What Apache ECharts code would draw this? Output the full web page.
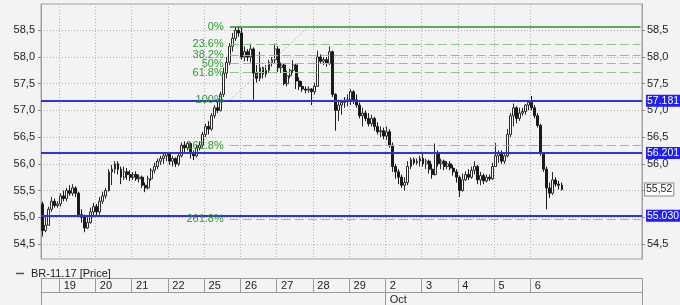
<!DOCTYPE html>
<html><head><meta charset="utf-8">
<script src="https://cdn.jsdelivr.net/npm/echarts@6/dist/echarts.min.js"></script>
<style>html,body{margin:0;padding:0;background:#f3f3f3}#c{width:680px;height:305px}</style>
</head><body><div id="c"></div>
<script>
// ---------- DATA ----------
const seriesName = 'BR-11.17 [Price]';
const firstDay = '18';
const dayLabels = ['19','20','21','22','25','26','27','28','29','2','3','4','5','6'];
const monthLabel = 'Oct';
const monthDay = '2';
const leadBars = 6, barsPerDay = 12, totalSlots = 199;
const yTicks = [54.5,55,55.5,56,56.5,57,57.5,58,58.5];

// candles: [open, close, low, high]
const d18 = [[55.25,54.75,54.64,55.29],[54.75,54.85,54.72,55.0],[54.85,55.15,54.85,55.2],[55.15,55.3,55.1,55.38],[55.3,55.22,55.18,55.35],[55.22,55.25,55.18,55.3]];
const d19 = [[55.25,55.4,55.2,55.45],[55.4,55.35,55.3,55.5],[55.35,55.5,55.3,55.55],[55.5,55.45,55.4,55.6],[55.45,55.55,55.4,55.62],[55.55,55.45,55.38,55.58],[55.45,55.05,55.0,55.48],[55.05,55.0,54.9,55.15],[55.0,54.8,54.72,55.05],[54.8,54.9,54.78,55.0],[54.9,55.1,54.88,55.18],[55.1,55.2,55.0,55.27]];
const d20 = [[55.2,55.1,55.04,55.25],[55.1,55.3,55.05,55.38],[55.3,55.4,55.25,55.48],[55.4,55.5,55.35,55.55],[55.5,55.85,55.48,55.9],[55.85,55.9,55.6,55.98],[55.9,56.0,55.82,56.05],[56.0,55.9,55.8,56.05],[55.9,55.75,55.62,55.95],[55.75,55.85,55.7,55.95],[55.85,55.8,55.7,55.92],[55.8,55.75,55.68,55.88]];
const d21 = [[55.75,55.8,55.7,55.85],[55.8,55.72,55.68,55.86],[55.72,55.75,55.65,55.8],[55.75,55.6,55.55,55.78],[55.6,55.55,55.47,55.65],[55.55,55.72,55.52,55.78],[55.72,55.88,55.68,55.92],[55.88,55.95,55.82,56.02],[55.95,56.05,55.9,56.1],[56.05,56.1,55.98,56.15],[56.1,56.15,56.0,56.2],[56.15,56.2,56.05,56.22]];
const d22 = [[56.2,56.05,55.98,56.22],[56.05,56.1,55.95,56.15],[56.1,56.0,55.94,56.12],[56.0,56.15,55.96,56.2],[56.15,56.35,56.12,56.4],[56.35,56.3,56.22,56.42],[56.3,56.38,56.25,56.42],[56.38,56.2,56.1,56.4],[56.2,56.15,56.07,56.25],[56.15,56.3,56.12,56.35],[56.3,56.35,56.25,56.42],[56.35,56.55,56.3,56.6]];
const d25 = [[56.55,56.7,56.5,56.75],[56.7,56.65,56.55,56.8],[56.65,56.9,56.62,56.95],[56.9,57.05,56.85,57.1],[57.05,57.0,56.95,57.2],[57.0,57.3,56.98,57.35],[57.3,57.7,57.25,57.8],[57.7,57.9,57.6,58.0],[57.9,58.2,57.85,58.26],[58.2,58.35,58.1,58.45],[58.35,58.5,58.3,58.56],[58.5,58.45,58.38,58.58]];
const d26 = [[58.45,58.0,57.95,58.55],[58.0,58.1,57.92,58.2],[58.1,58.0,57.92,58.15],[58.0,58.15,57.9,58.25],[58.15,57.7,57.2,58.18],[57.7,57.6,57.52,57.85],[57.6,57.8,57.55,58.1],[57.8,57.68,57.6,57.82],[57.68,57.75,57.62,57.85],[57.75,57.9,57.7,57.95],[57.9,57.95,57.82,58.0],[57.95,58.15,57.88,58.25]];
const d27 = [[58.15,57.8,57.72,58.2],[57.8,57.85,57.7,57.9],[57.85,57.5,57.47,57.88],[57.5,57.65,57.45,57.75],[57.65,57.75,57.6,57.78],[57.75,57.85,57.7,57.94],[57.85,57.55,57.4,57.88],[57.55,57.45,57.38,57.62],[57.45,57.4,57.35,57.55],[57.4,57.38,57.32,57.45],[57.38,57.4,57.33,57.45],[57.4,57.35,57.1,57.42]];
const d28 = [[57.35,57.45,57.3,57.52],[57.45,58.0,57.45,58.12],[58.0,57.92,57.88,58.05],[57.92,57.95,57.85,58.0],[57.95,57.88,57.82,58.0],[57.88,58.1,57.85,58.2],[58.1,57.3,57.25,58.12],[57.3,57.0,56.62,57.32],[57.0,57.1,56.8,57.2],[57.1,57.15,56.92,57.2],[57.15,57.18,57.05,57.25],[57.18,57.2,57.08,57.3]];
const d29 = [[57.2,57.35,57.1,57.4],[57.35,57.2,57.12,57.38],[57.2,57.1,57.05,57.3],[57.1,56.9,56.85,57.15],[56.9,56.95,56.7,57.05],[56.95,56.85,56.8,57.0],[56.85,56.75,56.7,56.95],[56.75,56.85,56.7,56.92],[56.85,56.7,56.62,56.88],[56.7,56.6,56.55,56.78],[56.6,56.62,56.5,56.7],[56.62,56.52,56.46,56.68]];
const d02 = [[56.52,56.6,56.45,56.7],[56.6,56.35,56.3,56.65],[56.35,55.95,55.85,56.4],[55.95,55.85,55.72,56.0],[55.85,55.75,55.62,55.9],[55.75,55.6,55.55,55.8],[55.6,55.65,55.5,55.75],[55.65,55.95,55.6,56.05],[55.95,56.08,55.9,56.12],[56.08,56.02,55.98,56.12],[56.02,56.05,55.98,56.1],[56.05,56.1,55.95,56.15]];
const d03 = [[56.1,56.0,55.95,56.18],[56.0,56.05,55.9,56.1],[56.05,55.9,55.82,56.08],[55.9,55.8,55.72,56.0],[55.8,56.2,55.78,56.38],[56.2,56.0,55.95,56.25],[56.0,56.05,55.9,56.1],[56.05,55.95,55.88,56.08],[55.95,56.0,55.9,56.05],[56.0,55.92,55.88,56.05],[55.92,55.85,55.78,55.98],[55.85,55.75,55.65,55.9]];
const d04 = [[55.75,55.5,55.38,55.78],[55.5,55.7,55.48,55.82],[55.7,55.8,55.68,55.86],[55.8,55.75,55.7,55.9],[55.75,55.88,55.72,55.95],[55.88,55.95,55.8,56.05],[55.95,55.7,55.62,55.98],[55.7,55.78,55.6,55.85],[55.78,55.68,55.62,55.82],[55.68,55.75,55.65,55.8],[55.75,55.72,55.68,55.8],[55.72,55.95,55.7,56.02]];
const d05 = [[55.95,56.15,55.95,56.39],[56.15,56.2,56.02,56.25],[56.2,56.05,56.0,56.25],[56.05,56.15,56.0,56.18],[56.15,56.55,56.12,56.65],[56.55,56.9,56.5,56.95],[56.9,57.05,56.7,57.13],[57.05,56.85,56.76,57.08],[56.85,56.95,56.8,57.05],[56.95,56.98,56.9,57.05],[56.98,57.1,56.92,57.12],[57.1,57.15,57.0,57.18]];
const d06 = [[57.15,57.05,57.0,57.27],[57.05,56.9,56.85,57.1],[56.9,56.72,56.68,56.95],[56.72,56.2,56.15,56.75],[56.2,55.9,55.85,56.22],[55.9,55.55,55.15,55.95],[55.55,55.45,55.36,55.65],[55.45,55.7,55.42,55.85],[55.7,55.62,55.57,55.75],[55.62,55.6,55.52,55.68],[55.6,55.52,55.5,55.65]];

// Support / resistance levels (blue) and their tags
const blueLevels = [57.181, 56.201, 55.030];
const blueTags = ['57.181', '56.201', '55.030'];
// Last price tag
const lastPrice = 55.52;
const lastPriceTag = '55,52';
// Fibonacci retracement
const fibValues = [58.56, 58.24, 58.04, 57.875, 57.71, 57.19, 56.34, 54.97];
const fibLabels = ['0%','23.6%','38.2%','50%','61.8%','100%','161.8%','261.8%'];
const fibSolid  = [true,false,false,false,false,true,false,false];
const fibStartIdx = 62, fibEndIdx = 198;
const trendFrom = [62, 57.19], trendTo = [88, 58.56];

// ---------- BUILD ----------
const candles = [].concat(d18,d19,d20,d21,d22,d25,d26,d27,d28,d29,d02,d03,d04,d05,d06);
const categories = [];
for (let k = 0; k < leadBars; k++) categories.push(firstDay + '-' + k);
dayLabels.forEach(d => { for (let k = 0; k < barsPerDay; k++) categories.push(d + '-' + k); });
while (categories.length < totalSlots) categories.push('x-' + categories.length);

const dayStart = {};
dayLabels.forEach((d, j) => { dayStart[leadBars + j * barsPerDay] = d; });
const isBoundary = i => i === 0 || dayStart[i] !== undefined;
const monthIdx = Number(Object.keys(dayStart).find(k => dayStart[k] === monthDay));

const FONT = 'Liberation Sans';
const fmtY = v => v.toFixed(1).replace('.', ',');

const markData = [];
fibValues.forEach((v, i) => {
  markData.push([
    { coord: [fibStartIdx, v],
      lineStyle: fibSolid[i] ? { color: '#2a8f2a', width: 1.5, type: 'solid' } : { color: '#86c686', width: 1.2, type: [9, 4] },
      label: { show: true, position: 'start', formatter: fibLabels[i], color: '#2f9a2f', fontSize: 11, fontFamily: FONT, distance: 6 } },
    { coord: [fibEndIdx, v] }
  ]);
});
markData.push([
  { coord: trendFrom, lineStyle: { color: '#9ad29a', width: 1, type: [2, 2] }, label: { show: false } },
  { coord: trendTo }
]);
blueLevels.forEach((v, i) => {
  markData.push({ yAxis: v,
    lineStyle: { color: '#3232dc', width: 2, type: 'solid' },
    label: { show: true, position: 'end', formatter: blueTags[i], color: '#ffffff', backgroundColor: '#1f1ff0',
      fontSize: 10.5, fontFamily: FONT, padding: [1, 1, 0, 1], lineHeight: 11, distance: 4 } });
});
markData.push({ yAxis: lastPrice,
  lineStyle: { color: 'rgba(0,0,0,0)', width: 0 },
  label: { show: true, position: 'end', formatter: lastPriceTag, color: '#222', backgroundColor: '#ffffff',
    borderColor: '#8c8c8c', borderWidth: 1, fontSize: 10.5, fontFamily: FONT, padding: [1, 1, 0, 1], lineHeight: 11, distance: 3 } });

const yAxisBase = {
  type: 'value', min: 54.219, max: 58.992, scale: true,
  axisLine: { show: true, lineStyle: { color: '#a0a0a0' } },
  axisTick: { show: true, length: 3, customValues: yTicks, lineStyle: { color: '#888' } },
  axisLabel: { customValues: yTicks, formatter: fmtY, color: '#222', fontSize: 11, fontFamily: FONT, margin: 6 },
};

const option = {
  animation: false,
  backgroundColor: '#f3f3f3',
  textStyle: { fontFamily: FONT },
  legend: {
    left: 11, top: 263, icon: 'rect', itemWidth: 8, itemHeight: 1.5,
    itemStyle: { color: '#555', borderWidth: 0 },
    textStyle: { color: '#222', fontSize: 11, fontFamily: FONT, padding: [0, 0, 0, 2] },
    data: [seriesName], selectedMode: false
  },
  grid: { left: 41, right: 38, top: 4, bottom: 46, show: true, borderColor: '#a0a0a0', borderWidth: 1, backgroundColor: 'transparent' },
  xAxis: [
    { type: 'category', data: categories, boundaryGap: true,
      axisLine: { show: false }, axisTick: { show: false }, axisLabel: { show: false },
      splitLine: { show: true, interval: (i) => isBoundary(i) && i > 0, lineStyle: { color: '#b0b0b0', type: [1, 2] } } },
    { type: 'category', data: categories, boundaryGap: true, position: 'bottom', offset: 19,
      axisLine: { show: true, lineStyle: { color: '#9a9a9a' } },
      axisTick: { show: true, inside: false, length: 14, interval: (i) => isBoundary(i), lineStyle: { color: '#9a9a9a' } },
      axisLabel: { show: true, interval: (i) => dayStart[i] !== undefined, formatter: (v, i) => dayStart[i] || '',
        align: 'left', padding: [0, 0, 0, 3], margin: 2, color: '#222', fontSize: 11, fontFamily: FONT },
      splitLine: { show: false } },
    { type: 'category', data: categories, boundaryGap: true, position: 'bottom', offset: 33,
      axisLine: { show: true, lineStyle: { color: '#9a9a9a' } },
      axisTick: { show: true, inside: false, length: 13, interval: (i) => i === 0 || i === monthIdx, lineStyle: { color: '#9a9a9a' } },
      axisLabel: { show: true, interval: (i) => i === monthIdx, formatter: () => monthLabel,
        align: 'left', padding: [0, 0, 0, 3], margin: 2, color: '#222', fontSize: 11, fontFamily: FONT },
      splitLine: { show: false } }
  ],
  yAxis: [
    Object.assign({}, yAxisBase, { position: 'left',
      splitLine: { show: true, lineStyle: { color: '#b0b0b0', type: [1, 2] } } }),
    Object.assign({}, yAxisBase, { position: 'right', splitLine: { show: false },
      axisLabel: Object.assign({}, yAxisBase.axisLabel, { margin: 5 }) })
  ],
  series: [{
    name: seriesName, type: 'candlestick', xAxisIndex: 0, yAxisIndex: 0,
    data: candles, barWidth: 2.4,
    itemStyle: { color: '#ffffff', color0: '#1a1a1a', borderColor: '#2a2a2a', borderColor0: '#1a1a1a', borderWidth: 1 },
    markLine: { silent: true, symbol: ['none', 'none'], animation: false, data: markData, precision: 3 }
  }]
};

const chart = echarts.init(document.getElementById('c'), null, { renderer: 'canvas' });
chart.setOption(option);
</script></body></html>
